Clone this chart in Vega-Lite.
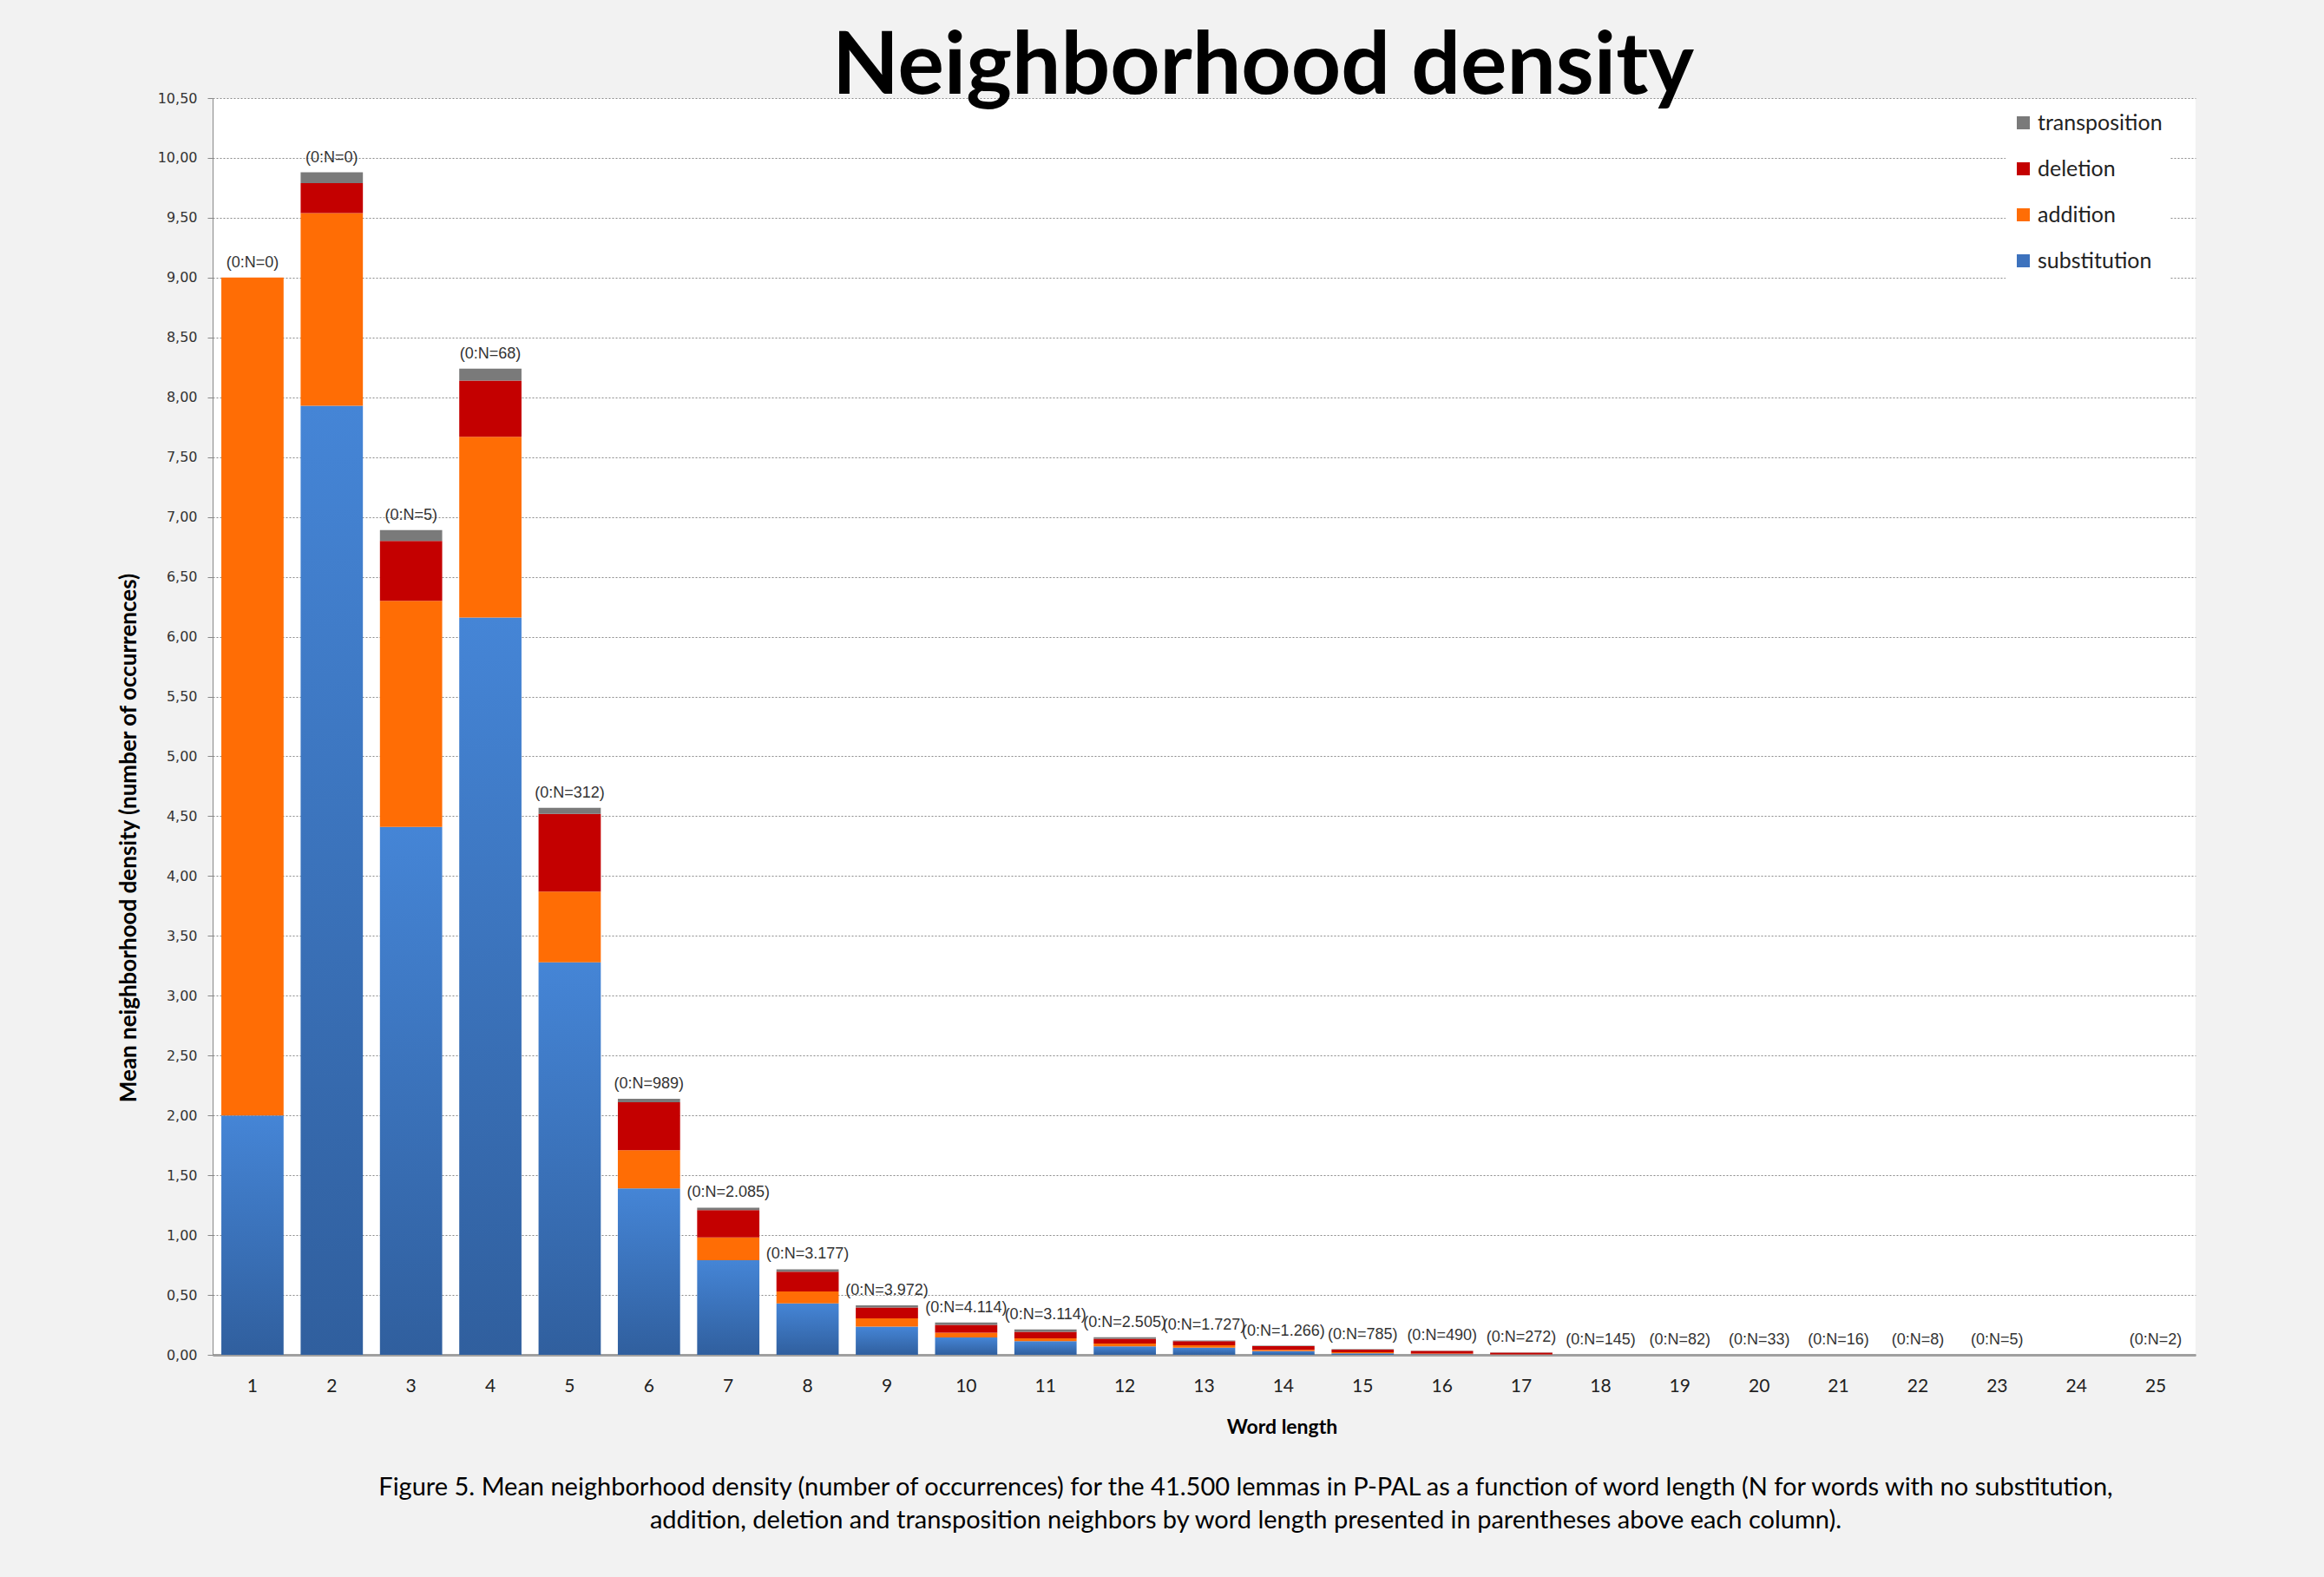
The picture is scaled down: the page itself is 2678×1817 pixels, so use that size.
{
  "$schema": "https://vega.github.io/schema/vega-lite/v6.json",
  "width": 2285,
  "height": 1448,
  "autosize": "none",
  "padding": {"left": 245, "top": 113, "right": 148, "bottom": 256},
  "background": "#f2f2f2",
  "title": {
    "text": "Neighborhood density",
    "font": "Lato",
    "fontSize": 100,
    "fontWeight": "bold",
    "color": "#000000",
    "anchor": "middle",
    "frame": "group",
    "baseline": "alphabetic",
    "offset": -103,
    "dx": 68
  },
  "config": {
    "view": {"fill": "#ffffff", "stroke": null}
  },
  "datasets": {
    "density": [
      {"len": 1, "type": "substitution", "value": 2.00},
      {"len": 1, "type": "addition", "value": 7.00},
      {"len": 1, "type": "deletion", "value": 0},
      {"len": 1, "type": "transposition", "value": 0},
      {"len": 2, "type": "substitution", "value": 7.93},
      {"len": 2, "type": "addition", "value": 1.61},
      {"len": 2, "type": "deletion", "value": 0.25},
      {"len": 2, "type": "transposition", "value": 0.09},
      {"len": 3, "type": "substitution", "value": 4.41},
      {"len": 3, "type": "addition", "value": 1.89},
      {"len": 3, "type": "deletion", "value": 0.50},
      {"len": 3, "type": "transposition", "value": 0.09},
      {"len": 4, "type": "substitution", "value": 6.16},
      {"len": 4, "type": "addition", "value": 1.51},
      {"len": 4, "type": "deletion", "value": 0.47},
      {"len": 4, "type": "transposition", "value": 0.10},
      {"len": 5, "type": "substitution", "value": 3.28},
      {"len": 5, "type": "addition", "value": 0.59},
      {"len": 5, "type": "deletion", "value": 0.65},
      {"len": 5, "type": "transposition", "value": 0.05},
      {"len": 6, "type": "substitution", "value": 1.39},
      {"len": 6, "type": "addition", "value": 0.32},
      {"len": 6, "type": "deletion", "value": 0.40},
      {"len": 6, "type": "transposition", "value": 0.03},
      {"len": 7, "type": "substitution", "value": 0.79},
      {"len": 7, "type": "addition", "value": 0.19},
      {"len": 7, "type": "deletion", "value": 0.23},
      {"len": 7, "type": "transposition", "value": 0.02},
      {"len": 8, "type": "substitution", "value": 0.43},
      {"len": 8, "type": "addition", "value": 0.10},
      {"len": 8, "type": "deletion", "value": 0.165},
      {"len": 8, "type": "transposition", "value": 0.02},
      {"len": 9, "type": "substitution", "value": 0.235},
      {"len": 9, "type": "addition", "value": 0.07},
      {"len": 9, "type": "deletion", "value": 0.09},
      {"len": 9, "type": "transposition", "value": 0.018},
      {"len": 10, "type": "substitution", "value": 0.145},
      {"len": 10, "type": "addition", "value": 0.04},
      {"len": 10, "type": "deletion", "value": 0.066},
      {"len": 10, "type": "transposition", "value": 0.019},
      {"len": 11, "type": "substitution", "value": 0.114},
      {"len": 11, "type": "addition", "value": 0.024},
      {"len": 11, "type": "deletion", "value": 0.055},
      {"len": 11, "type": "transposition", "value": 0.02},
      {"len": 12, "type": "substitution", "value": 0.07},
      {"len": 12, "type": "addition", "value": 0.025},
      {"len": 12, "type": "deletion", "value": 0.04},
      {"len": 12, "type": "transposition", "value": 0.012},
      {"len": 13, "type": "substitution", "value": 0.06},
      {"len": 13, "type": "addition", "value": 0.02},
      {"len": 13, "type": "deletion", "value": 0.035},
      {"len": 13, "type": "transposition", "value": 0.005},
      {"len": 14, "type": "substitution", "value": 0.03},
      {"len": 14, "type": "addition", "value": 0.012},
      {"len": 14, "type": "deletion", "value": 0.03},
      {"len": 14, "type": "transposition", "value": 0.004},
      {"len": 15, "type": "substitution", "value": 0.012},
      {"len": 15, "type": "addition", "value": 0.01},
      {"len": 15, "type": "deletion", "value": 0.022},
      {"len": 15, "type": "transposition", "value": 0.003},
      {"len": 16, "type": "substitution", "value": 0.005},
      {"len": 16, "type": "addition", "value": 0.005},
      {"len": 16, "type": "deletion", "value": 0.022},
      {"len": 16, "type": "transposition", "value": 0.002},
      {"len": 17, "type": "substitution", "value": 0.002},
      {"len": 17, "type": "addition", "value": 0.002},
      {"len": 17, "type": "deletion", "value": 0.014},
      {"len": 17, "type": "transposition", "value": 0.002},
      {"len": 18, "type": "substitution", "value": 0},
      {"len": 19, "type": "substitution", "value": 0},
      {"len": 20, "type": "substitution", "value": 0},
      {"len": 21, "type": "substitution", "value": 0},
      {"len": 22, "type": "substitution", "value": 0},
      {"len": 23, "type": "substitution", "value": 0},
      {"len": 24, "type": "substitution", "value": 0},
      {"len": 25, "type": "substitution", "value": 0}
    ],
    "zeroN": [
      {"len": 1, "N": "0"},
      {"len": 2, "N": "0"},
      {"len": 3, "N": "5"},
      {"len": 4, "N": "68"},
      {"len": 5, "N": "312"},
      {"len": 6, "N": "989"},
      {"len": 7, "N": "2.085"},
      {"len": 8, "N": "3.177"},
      {"len": 9, "N": "3.972"},
      {"len": 10, "N": "4.114"},
      {"len": 11, "N": "3.114"},
      {"len": 12, "N": "2.505"},
      {"len": 13, "N": "1.727"},
      {"len": 14, "N": "1.266"},
      {"len": 15, "N": "785"},
      {"len": 16, "N": "490"},
      {"len": 17, "N": "272"},
      {"len": 18, "N": "145"},
      {"len": 19, "N": "82"},
      {"len": 20, "N": "33"},
      {"len": 21, "N": "16"},
      {"len": 22, "N": "8"},
      {"len": 23, "N": "5"},
      {"len": 25, "N": "2"}
    ]
  },
  "resolve": {"axis": {"x": "independent"}},
  "layer": [
    {
      "data": {"name": "density"},
      "transform": [
        {"calculate": "indexof(['substitution','addition','deletion','transposition'], datum.type)", "as": "stackOrder"}
      ],
      "mark": {"type": "bar"},
      "encoding": {
        "x": {
          "field": "len",
          "type": "ordinal",
          "scale": {"domain": [1,2,3,4,5,6,7,8,9,10,11,12,13,14,15,16,17,18,19,20,21,22,23,24,25], "paddingInner": 0.215, "paddingOuter": 0.11},
          "axis": {
            "orient": "bottom",
            "title": "Word length",
            "titleFont": "Lato",
            "titleFontSize": 23,
            "titleFontWeight": "bold",
            "titleColor": "#000000",
            "titleX": 1232,
            "titleAlign": "center",
            "titlePadding": 26,
            "labelFont": "Lato",
            "labelFontSize": 21,
            "labelColor": "#222222",
            "labelAngle": 0,
            "labelPadding": 25,
            "ticks": false,
            "tickSize": 0,
            "domainColor": "#a0a0a0",
            "domainWidth": 3,
            "grid": false
          }
        },
        "y": {
          "field": "value",
          "type": "quantitative",
          "stack": "zero",
          "scale": {"domain": [0, 10.5], "nice": false},
          "axis": {
            "title": "Mean neighborhood density  (number of occurrences)",
            "titleFont": "Lato",
            "titleFontSize": 26,
            "titleFontWeight": "bold",
            "titleColor": "#000000",
            "titlePadding": 20,
            "titleY": 852,
            "titleAlign": "center",
            "values": [0,0.5,1,1.5,2,2.5,3,3.5,4,4.5,5,5.5,6,6.5,7,7.5,8,8.5,9,9.5,10,10.5],
            "labelExpr": "replace(format(datum.value, '.2f'), '.', ',')",
            "labelFont": "DejaVu Sans",
            "labelFontSize": 16,
            "labelColor": "#333333",
            "labelPadding": 12,
            "tickSize": 6,
            "tickColor": "#888888",
            "domainColor": "#888888",
            "grid": true,
            "gridDash": [2, 2],
            "gridColor": "#8a8a8a",
            "gridWidth": 1
          }
        },
        "color": {
          "condition": {
            "test": "datum.type === 'substitution'",
            "value": {"gradient": "linear", "x1": 0, "y1": 0, "x2": 0, "y2": 1, "stops": [{"offset": 0, "color": "#4585d6"}, {"offset": 1, "color": "#305f9e"}]}
          },
          "field": "type",
          "type": "nominal",
          "scale": {
            "domain": ["transposition", "deletion", "addition", "substitution"],
            "range": ["#7a7a7a", "#c40000", "#ff6d05", "#3d72bd"]
          },
          "legend": {
            "orient": "none",
            "legendX": 2066,
            "legendY": 8,
            "title": null,
            "fillColor": "#ffffff",
            "padding": 8,
            "symbolType": "square",
            "symbolSize": 225,
            "symbolStrokeWidth": 0,
            "labelFont": "Lato",
            "labelFontSize": 25,
            "labelColor": "#222222",
            "labelOffset": 4,
            "rowPadding": 27
          }
        },
        "order": {"field": "stackOrder", "type": "quantitative", "sort": "ascending"}
      }
    },
    {
      "data": {"name": "density"},
      "transform": [
        {"aggregate": [{"op": "sum", "field": "value", "as": "total"}], "groupby": ["len"]},
        {"lookup": "len", "from": {"data": {"name": "zeroN"}, "key": "len", "fields": ["N"]}},
        {"filter": "datum.N != null"},
        {"calculate": "'(0:N=' + datum.N + ')'", "as": "label"}
      ],
      "mark": {
        "type": "text",
        "baseline": "bottom",
        "dy": -8,
        "font": "Liberation Sans Narrow, Liberation Sans",
        "fontSize": 18,
        "color": "#333333"
      },
      "encoding": {
        "x": {"field": "len", "type": "ordinal", "axis": null},
        "y": {"field": "total", "type": "quantitative", "title": "Mean neighborhood density  (number of occurrences)"},
        "text": {"field": "label", "type": "nominal"}
      }
    },
    {
      "data": {"name": "zeroN"},
      "mark": {"type": "text", "text": ""},
      "encoding": {
        "x": {
          "field": "len",
          "type": "ordinal",
          "axis": {
            "orient": "bottom",
            "title": [
              "Figure 5. Mean neighborhood density (number of occurrences)  for the 41.500 lemmas in P-PAL as a function of word length (N for words with no substitution,",
              "addition, deletion and transposition  neighbors  by word length presented in parentheses above each column)."
            ],
            "titleFont": "Lato",
            "titleFontSize": 29,
            "titleFontWeight": "normal",
            "titleColor": "#000000",
            "titleX": 1190,
            "titleY": 138,
            "titleAlign": "center",
            "titleBaseline": "top",
            "titleLineHeight": 38,
            "labels": false,
            "ticks": false,
            "domain": false,
            "grid": false
          }
        }
      }
    }
  ]
}
